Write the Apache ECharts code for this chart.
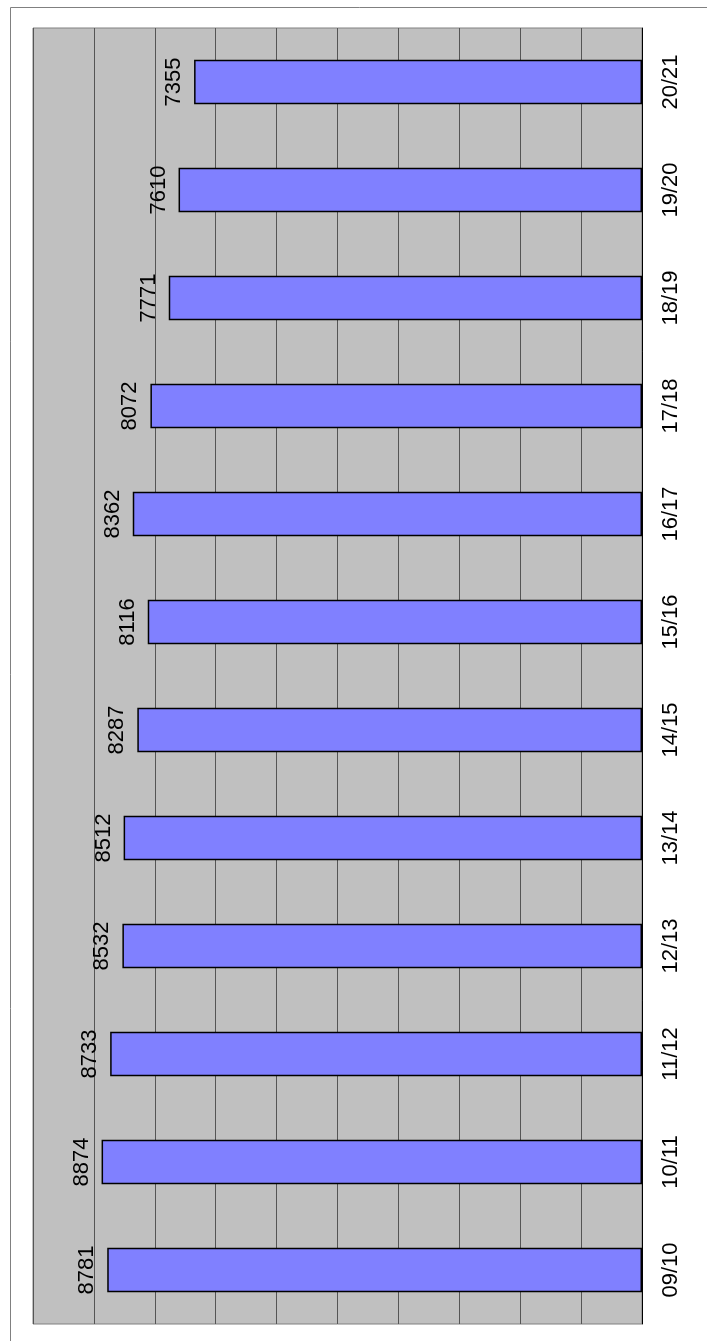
<!DOCTYPE html>
<html>
<head>
<meta charset="utf-8">
<script src="https://cdn.jsdelivr.net/npm/echarts@6/dist/echarts.min.js"></script>
<style>
html, body { margin: 0; padding: 0; background: #fff; }
#main { width: 707px; height: 1341px; }
</style>
</head>
<body>
<div id="main"></div>
<script>
// seasons, bottom to top
var seasons = ['09/10', '10/11', '11/12', '12/13', '13/14', '14/15', '15/16', '16/17', '17/18', '18/19', '19/20', '20/21'];
var counts = [8781, 8874, 8733, 8532, 8512, 8287, 8116, 8362, 8072, 7771, 7610, 7355];
var valueMin = 0;
var valueMax = 10000;
var valueStep = 1000;

var chart = echarts.init(document.getElementById('main'));
chart.setOption({
  animation: false,
  textStyle: { fontFamily: 'Liberation Sans, Arial, sans-serif' },
  graphic: [{
    type: 'rect',
    left: 8, top: 5,
    shape: { width: 730, height: 1370 },
    style: { fill: 'none', stroke: '#808080', lineWidth: 1 },
    silent: true
  }],
  grid: {
    left: 33, right: 65, top: 28, bottom: 17,
    show: true,
    backgroundColor: '#c0c0c0',
    borderColor: '#808080',
    borderWidth: 1
  },
  xAxis: {
    type: 'value',
    inverse: true,
    min: valueMin, max: valueMax, interval: valueStep,
    axisLabel: { show: false },
    axisTick: { show: false },
    axisLine: { show: false },
    splitLine: { lineStyle: { color: '#555', width: 1 } }
  },
  yAxis: {
    type: 'category',
    position: 'right',
    data: seasons,
    axisLine: { lineStyle: { color: '#000', width: 1 } },
    axisTick: { length: 6, lineStyle: { color: '#000' } },
    axisLabel: { rotate: 90, fontSize: 22, color: '#000', margin: 18 }
  },
  series: [{
    type: 'bar',
    data: counts,
    barWidth: '41%',
    itemStyle: { color: '#8080ff', borderColor: '#000', borderWidth: 1.5 },
    label: {
      show: true,
      position: 'left',
      distance: 9,
      rotate: 90,
      align: 'center',
      verticalAlign: 'bottom',
      fontSize: 22,
      color: '#000'
    }
  }]
});
</script>
</body>
</html>
